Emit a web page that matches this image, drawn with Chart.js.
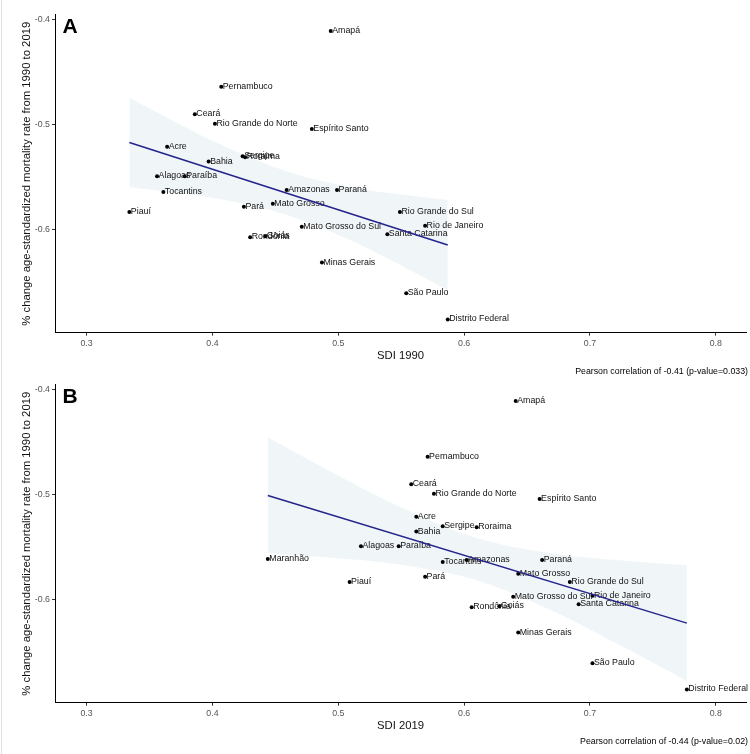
<!DOCTYPE html>
<html>
<head>
<meta charset="utf-8">
<script src="https://cdn.jsdelivr.net/npm/chart.js@4/dist/chart.umd.min.js"></script>
<style>
html, body { margin: 0; padding: 0; background: #fff; }
#wrap { position: relative; width: 750px; height: 754px; overflow: hidden; }
.panel { position: absolute; left: 0; width: 750px; height: 384px; }
#panelA { top: 0; }
#panelB { top: 370px; }
#edge { position: absolute; left: 1px; top: 0; width: 1px; height: 754px; background: #e2e2e2; }
</style>
</head>
<body>
<div id="wrap">
  <div id="edge"></div>
  <div class="panel" id="panelA"><canvas id="chartA" width="750" height="384"></canvas></div>
  <div class="panel" id="panelB"><canvas id="chartB" width="750" height="384"></canvas></div>
</div>
<script>
// Brazilian states, % change in age-standardized mortality rate 1990-2019
let states = ["Acre", "Alagoas", "Amapá", "Amazonas", "Bahia", "Ceará", "Distrito Federal",
  "Espírito Santo", "Goiás", "Maranhão", "Mato Grosso", "Mato Grosso do Sul", "Minas Gerais",
  "Pará", "Paraíba", "Paraná", "Pernambuco", "Piauí", "Rio de Janeiro", "Rio Grande do Norte",
  "Rio Grande do Sul", "Rondônia", "Roraima", "Santa Catarina", "São Paulo", "Sergipe", "Tocantins"];

let mortalityChange = [-0.521, -0.549, -0.411, -0.562, -0.535, -0.490, -0.685,
  -0.504, -0.606, -0.561, -0.575, -0.597, -0.631,
  -0.578, -0.549, -0.562, -0.464, -0.583, -0.596, -0.499,
  -0.583, -0.607, -0.531, -0.604, -0.660, -0.530, -0.564];

// Maranhão falls outside the plotted range in 1990
let sdi1990 = [0.364, 0.356, 0.494, 0.459, 0.397, 0.386, 0.587,
  0.479, 0.442, null, 0.448, 0.471, 0.487,
  0.425, 0.378, 0.499, 0.407, 0.334, 0.569, 0.402,
  0.549, 0.430, 0.426, 0.539, 0.554, 0.424, 0.361];

let sdi2019 = [0.562, 0.518, 0.641, 0.602, 0.562, 0.558, 0.777,
  0.660, 0.628, 0.444, 0.643, 0.639, 0.643,
  0.569, 0.548, 0.662, 0.571, 0.509, 0.702, 0.576,
  0.684, 0.606, 0.610, 0.691, 0.702, 0.583, 0.583];

// fitted line and confidence band
let fitXA = [0.334, 0.587];
let fitYA = [-0.5169, -0.6143];
let bandXA = [0.334, 0.37, 0.41, 0.46, 0.51, 0.55, 0.587];
let bandHighA = [-0.4743, -0.4971, -0.5208, -0.5447, -0.5593, -0.5664, -0.5714];
let bandLowA = [-0.5595, -0.5645, -0.5716, -0.5861, -0.6101, -0.6338, -0.6572];

let fitXB = [0.444, 0.777];
let fitYB = [-0.5007, -0.6220];
let bandXB = [0.444, 0.49, 0.55, 0.61, 0.67, 0.73, 0.777];
let bandHighB = [-0.4457, -0.4755, -0.5121, -0.5412, -0.5558, -0.5629, -0.5670];
let bandLowB = [-0.5557, -0.5595, -0.5665, -0.5812, -0.6102, -0.6469, -0.6770];

let xTicks = [0.3, 0.4, 0.5, 0.6, 0.7, 0.8];
let yTicks = [-0.4, -0.5, -0.6];

const FONT = '"Liberation Sans", Arial, sans-serif';

function pairs(xs, ys) {
    return xs.map((x, i) => ({ x: x, y: ys[i] }));
}

const panelPlugin = {
    id: 'panelText',
    afterDatasetDraw(chart, args, opts) {
        if (!args.meta._dataset.isPoints) return;
        let ctx = chart.ctx;
        ctx.save();
        ctx.font = '8.8px ' + FONT;
        ctx.fillStyle = '#111';
        ctx.textAlign = 'left';
        ctx.textBaseline = 'alphabetic';
        args.meta.data.forEach((pt, i) => {
            ctx.fillText(args.meta._dataset.data[i].label, pt.x + 1.5, pt.y + 2);
        });
        ctx.restore();
    },
    afterDraw(chart, args, opts) {
        let ctx = chart.ctx;
        ctx.save();
        ctx.fillStyle = '#000';
        ctx.font = 'bold 21px ' + FONT;
        ctx.textAlign = 'left';
        ctx.textBaseline = 'alphabetic';
        ctx.fillText(opts.letter, 62.5, 33.3);
        ctx.font = '8.8px ' + FONT;
        ctx.textAlign = 'right';
        ctx.textBaseline = 'middle';
        ctx.fillText(opts.note, 748, 371.7);
        ctx.restore();
    }
};

function makeChart(canvasId, sdi, fitX, fitY, bandX, bandHigh, bandLow, xTitle, letter, note) {
    let points = [];
    states.forEach((s, i) => {
        if (sdi[i] !== null) points.push({ x: sdi[i], y: mortalityChange[i], label: s });
    });

    return new Chart(document.getElementById(canvasId), {
        type: 'line',
        data: {
            datasets: [
                {
                    data: pairs(fitX, fitY),
                    borderColor: '#24248c',
                    borderWidth: 1.5,
                    pointRadius: 0,
                    fill: false,
                    order: 0
                },
                {
                    isPoints: true,
                    data: points,
                    showLine: false,
                    pointRadius: 2,
                    pointBackgroundColor: '#000',
                    pointBorderWidth: 0,
                    order: 1
                },
                {
                    data: pairs(bandX, bandHigh),
                    borderWidth: 0,
                    pointRadius: 0,
                    tension: 0.4,
                    cubicInterpolationMode: 'monotone',
                    backgroundColor: 'rgba(205, 222, 232, 0.3)',
                    fill: '+1',
                    order: 2
                },
                {
                    data: pairs(bandX, bandLow),
                    borderWidth: 0,
                    pointRadius: 0,
                    tension: 0.4,
                    cubicInterpolationMode: 'monotone',
                    fill: false,
                    order: 3
                }
            ]
        },
        options: {
            responsive: false,
            animation: false,
            layout: { padding: { top: 14.75, right: 2, bottom: 0, left: 0 } },
            plugins: {
                legend: { display: false },
                tooltip: { enabled: false },
                panelText: { letter: letter, note: note }
            },
            scales: {
                x: {
                    type: 'linear',
                    min: 0.2749,
                    max: 0.824,
                    afterFit: s => { s.height = 51.3; },
                    afterBuildTicks: s => { s.ticks = xTicks.map(v => ({ value: v })); },
                    ticks: {
                        callback: v => v.toFixed(1),
                        font: { family: FONT, size: 8.8 },
                        color: '#555',
                        padding: 3,
                        maxRotation: 0,
                        autoSkip: false
                    },
                    grid: { drawOnChartArea: false, drawTicks: true, tickLength: 3, color: '#333' },
                    border: { display: true, color: '#000', width: 1 },
                    title: {
                        display: true,
                        text: xTitle,
                        color: '#111',
                        font: { family: FONT, size: 11.3 },
                        padding: { top: 0, bottom: 21.2 }
                    }
                },
                y: {
                    type: 'linear',
                    min: -0.6976,
                    max: -0.3955,
                    afterFit: s => { s.width = 55; },
                    afterBuildTicks: s => { s.ticks = yTicks.map(v => ({ value: v })); },
                    ticks: {
                        callback: v => v.toFixed(1),
                        font: { family: FONT, size: 8.8 },
                        color: '#555',
                        padding: 2,
                        autoSkip: false
                    },
                    grid: { drawOnChartArea: false, drawTicks: true, tickLength: 3, color: '#333' },
                    border: { display: true, color: '#000', width: 1 },
                    title: {
                        display: true,
                        text: '% change age-standardized mortality rate from 1990 to 2019',
                        color: '#111',
                        font: { family: FONT, size: 11.3 },
                        padding: { top: 20, bottom: 0 }
                    }
                }
            }
        },
        plugins: [panelPlugin]
    });
}

makeChart('chartA', sdi1990, fitXA, fitYA, bandXA, bandHighA, bandLowA, 'SDI 1990', 'A',
    'Pearson correlation of -0.41 (p-value=0.033)');
makeChart('chartB', sdi2019, fitXB, fitYB, bandXB, bandHighB, bandLowB, 'SDI 2019', 'B',
    'Pearson correlation of -0.44 (p-value=0.02)');
</script>
</body>
</html>
